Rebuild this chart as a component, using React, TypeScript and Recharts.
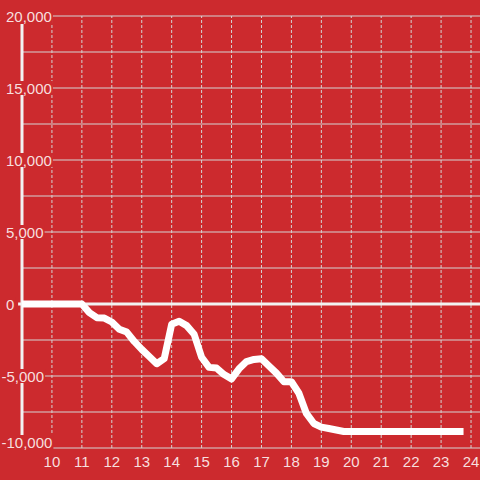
import { LineChart, Line, XAxis, YAxis, CartesianGrid, ReferenceLine } from 'recharts';

// hour of day (x) and running balance (y)
const hours = [
  9, 11, 11.25, 11.5, 11.75, 12, 12.25, 12.5, 12.75, 13, 13.25, 13.5, 13.75, 14, 14.25, 14.5, 14.75,
  15, 15.25, 15.5, 15.75, 16, 16.25, 16.5, 16.75, 17, 17.25, 17.5, 17.75, 18, 18.25, 18.5, 18.75,
  19, 19.25, 19.5, 19.75, 23.75,
];
const balance = [
  0, 0, -600, -950, -980, -1250, -1750, -1950, -2600, -3150, -3650, -4150, -3800, -1400, -1200, -1500, -2100,
  -3700, -4400, -4450, -4900, -5200, -4500, -4000, -3850, -3800, -4300, -4800, -5400, -5400, -6200, -7600, -8300,
  -8550, -8650, -8750, -8850, -8850,
];

const xTicks = [10, 11, 12, 13, 14, 15, 16, 17, 18, 19, 20, 21, 22, 23, 24];
const yTicks = [-10000, -7500, -5000, -2500, 0, 2500, 5000, 7500, 10000, 12500, 15000, 17500, 20000];

const data = hours.map((h, i) => ({ h, v: balance[i] }));

const BG = '#cc2a2e';
const LABEL = '#f7dfdf';
const GRID = '#d4d4d4';
const AXIS = '#f2f2f2';

// rough Arial widths at 15px
const textWidth = (s: string) =>
  s.split('').reduce((w, c) => w + (c === ',' ? 4.2 : c === '-' ? 5 : 8.34), 0);

// labels sit left-aligned over the axis with a red patch behind them
const renderYTick = (props: any) => {
  const { y, payload } = props;
  const val = Number(payload.value);
  if (val % 5000 !== 0) return <g />;
  const label = val.toLocaleString('en-US');
  const w = textWidth(label);
  const left = val < 0 ? 1.5 : 6;
  const cy = val === yTicks[0] ? y - 6 : y;
  return (
    <g>
      <rect x={left - 1} y={cy - 7} width={w + 2} height={14} fill={BG} />
      <text x={left} y={cy} dy={5.5} textAnchor="start" fill={LABEL} fontSize={15}>
        {label}
      </text>
    </g>
  );
};

export default function App() {
  return (
    <div
      style={{
        position: 'absolute',
        left: 0,
        top: 0,
        width: 480,
        height: 480,
        background: BG,
        fontFamily: '"Liberation Sans", Arial, sans-serif',
      }}
    >
      <LineChart width={480} height={480} data={data} margin={{ top: 16, right: 0, bottom: 0, left: 20 }}>
        <CartesianGrid horizontal={true} vertical={false} stroke={GRID} strokeWidth={1} />
        {xTicks.map((t) => (
          <ReferenceLine key={t} x={t} stroke={GRID} strokeDasharray="3 2" />
        ))}
        <XAxis
          dataKey="h"
          type="number"
          domain={[8.9667, 24.3]}
          ticks={xTicks}
          interval={0}
          allowDataOverflow
          axisLine={false}
          tickLine={false}
          height={32}
          tick={{ fill: LABEL, fontSize: 15 }}
        />
        <YAxis
          type="number"
          domain={[-10000, 20000]}
          ticks={yTicks}
          interval={0}
          width={1}
          axisLine={false}
          tickLine={false}
          tick={renderYTick}
        />
        <ReferenceLine
          segment={[{ x: 9, y: 19450 }, { x: 9, y: -10000 }]}
          stroke={AXIS}
          strokeWidth={3}
        />
        <ReferenceLine
          segment={[{ x: 8.87, y: 0 }, { x: 24.3, y: 0 }]}
          ifOverflow="visible"
          stroke={AXIS}
          strokeWidth={3}
        />
        <Line
          dataKey="v"
          type="linear"
          stroke="#ffffff"
          strokeWidth={7}
          strokeLinejoin="round"
          dot={false}
          isAnimationActive={false}
        />
      </LineChart>
    </div>
  );
}
